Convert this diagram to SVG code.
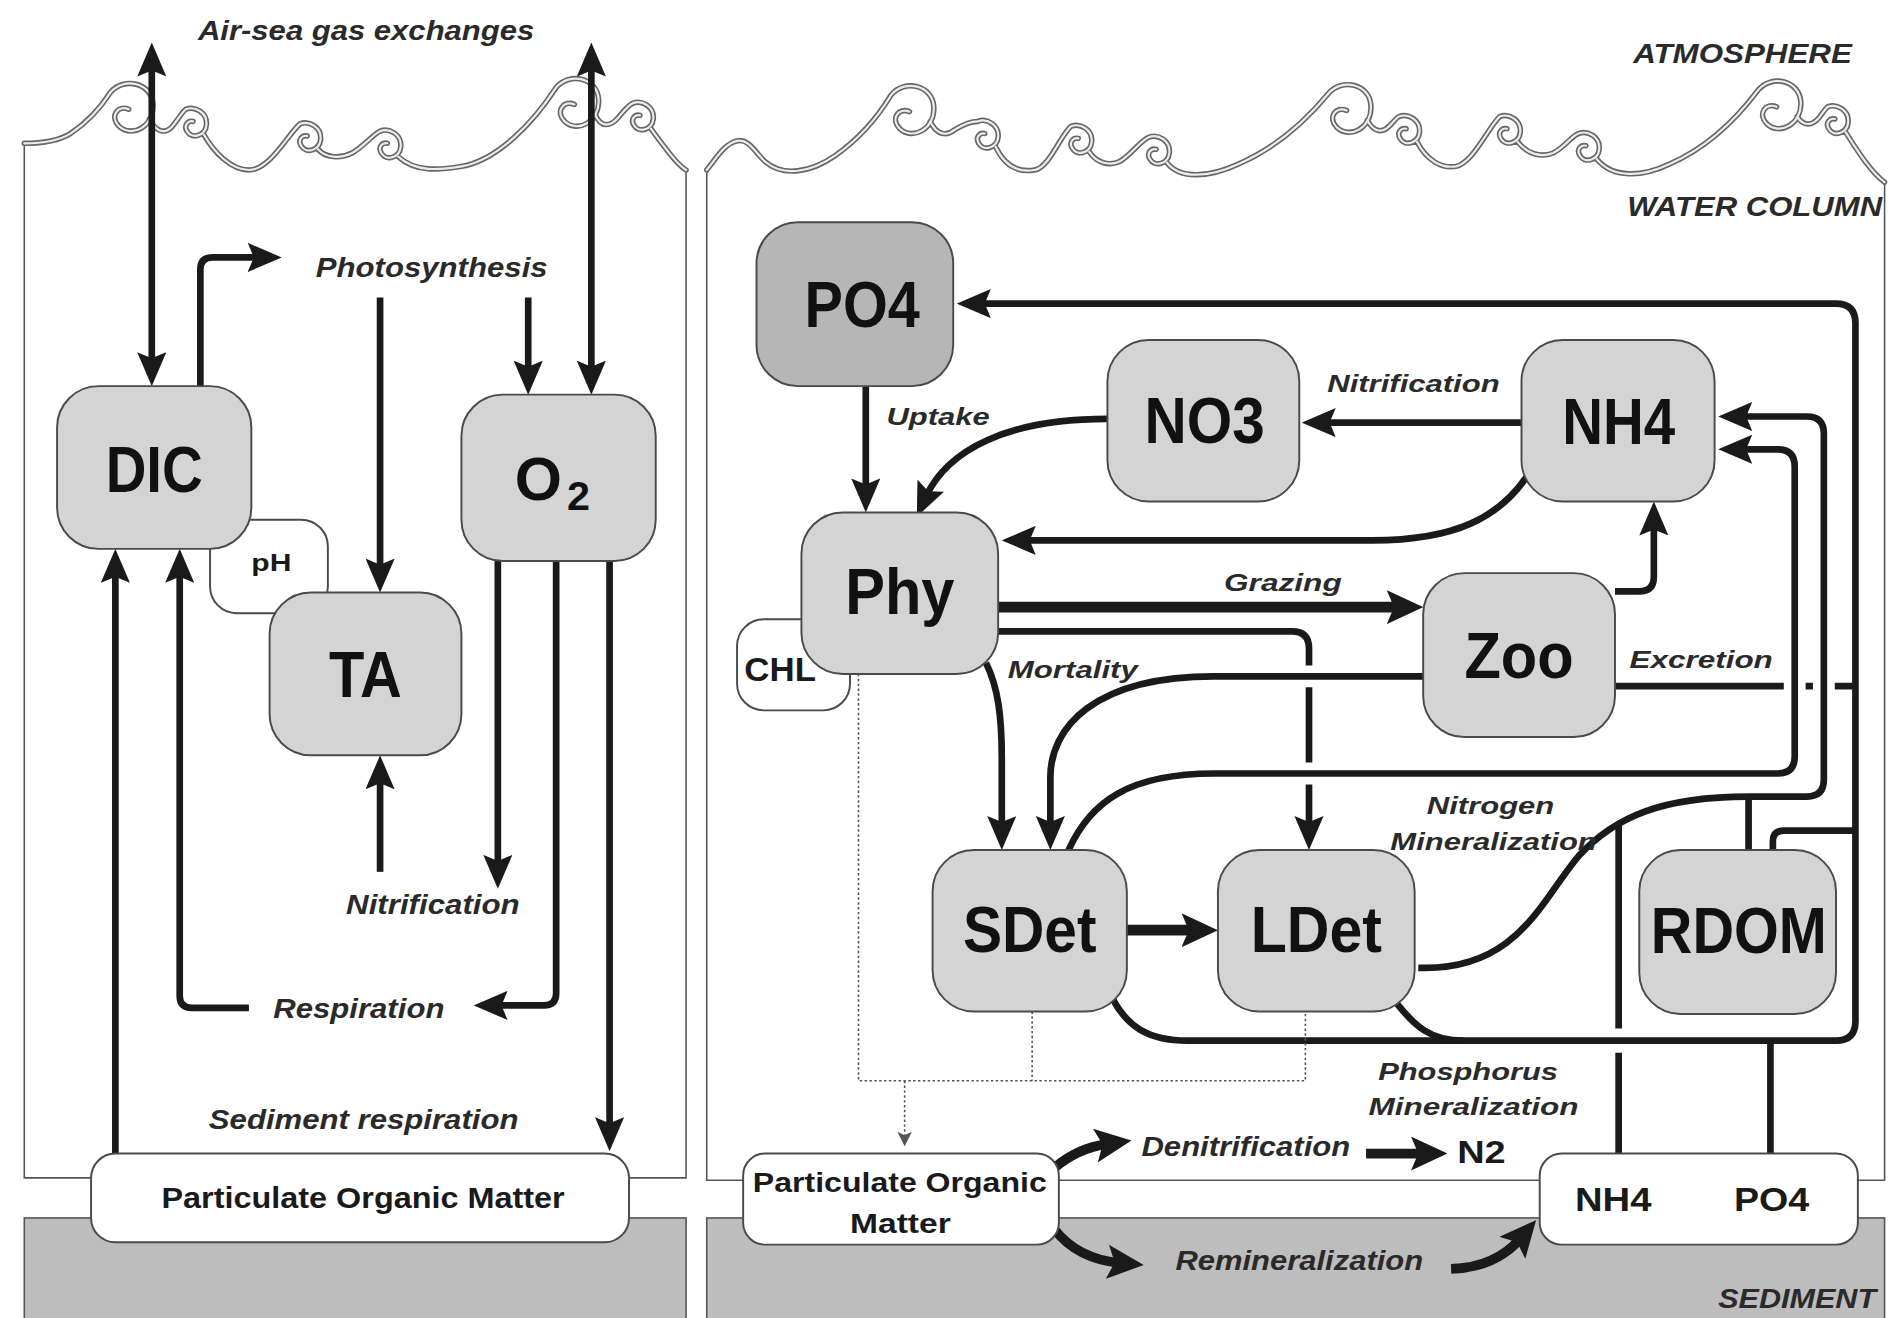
<svg xmlns="http://www.w3.org/2000/svg" width="1904" height="1318" viewBox="0 0 1904 1318">
<style>
.panel{fill:none;stroke:#555;stroke-width:1.3}
.sed{fill:#bdbdbd;stroke:#555;stroke-width:1.3}
.w1{fill:none;stroke:#666;stroke-width:4.5;stroke-linecap:round;stroke-linejoin:round}
.w2{fill:none;stroke:#ececec;stroke-width:1.8;stroke-linecap:round;stroke-linejoin:round}
.box{fill:#d4d4d4;stroke:#4a4a4a;stroke-width:1.6}
.dark{fill:#b6b6b6}
.wbox{fill:#fff;stroke:#4a4a4a;stroke-width:1.6}
.lbl{font-family:"Liberation Sans",Arial,sans-serif;font-weight:bold;font-size:54px;fill:#111;text-anchor:middle}
.it{font-family:"Liberation Sans",Arial,sans-serif;font-weight:bold;font-style:italic;font-size:22px;fill:#2a2a2a}
.sm{font-family:"Liberation Sans",Arial,sans-serif;font-weight:bold;fill:#1a1a1a}
.c{fill:none;stroke:#1a1a1a;stroke-width:5.5;stroke-linejoin:round}
.ct{fill:none;stroke:#1a1a1a;stroke-width:9;stroke-linejoin:round}
.dot{fill:none;stroke:#555;stroke-width:1.3;stroke-dasharray:2 2}
</style>
<defs>
<marker id="a" viewBox="0 0 28 24" refX="11" refY="12" markerWidth="28" markerHeight="24" markerUnits="userSpaceOnUse" orient="auto-start-reverse">
<path d="M0,0 L28,12 L0,24 L5,12 z" fill="#1a1a1a"/>
</marker>
<marker id="ab" viewBox="0 0 30 28" refX="10" refY="14" markerWidth="30" markerHeight="28" markerUnits="userSpaceOnUse" orient="auto">
<path d="M0,0 L30,14 L0,28 L6,14 z" fill="#1a1a1a"/>
</marker>
<marker id="as" viewBox="0 0 12 12" refX="4" refY="6" markerWidth="12" markerHeight="12" markerUnits="userSpaceOnUse" orient="auto">
<path d="M0,0 L12,6 L0,12 L3,6 z" fill="#555"/>
</marker>
<path id="wL" d="M20,118 C35,118 48,116 58,110 C70,102 82,90 91,76 c11,-13 34,-8 35,10 c1,18 -17,28 -28,18 c-8,-8 -1,-18 8,-14 m17,8 C129,110 137,110 142,104 C147,98 150,92 153,90 c8,-3 18,3 17,13 c-1,9 -12,12 -16,5 c-3,-5 1,-9 5,-8 m9,11 C176,125 190,140 205,140 C222,140 236,112 247,102 c8,-3 18,3 17,13 c-1,9 -12,12 -16,5 c-3,-5 1,-9 5,-8 m9,11 C268,130 280,131 290,126 C299,121 307,111 313,108 c8,-3 18,3 17,13 c-1,9 -12,12 -16,5 c-3,-5 1,-9 5,-8 m9,11 C342,142 362,140 380,137 C410,132 440,100 458,72 c11,-13 34,-8 35,10 c1,18 -17,28 -28,18 c-8,-8 -1,-18 8,-14 m17,8 C495,106 503,104 509,97 C514,91 517,87 521,85 c8,-3 18,3 17,13 c-1,9 -12,12 -16,5 c-3,-5 1,-9 5,-8 m9,11 C548,122 557,135 565,140"/>
<path id="wR" d="M582,140 C590,130 597,118 607,116 C617,114 622,126 630,133 C645,146 668,142 688,128 C705,116 722,98 734,78 c11,-13 34,-8 35,10 c1,18 -17,28 -28,18 c-8,-8 -1,-18 8,-14 m17,8 C772,112 780,112 786,107 C794,102 799,100 805,100 c8,-3 18,3 17,13 c-1,9 -12,12 -16,5 c-3,-5 1,-9 5,-8 m9,11 C828,138 840,142 852,140 C864,138 873,112 882,104 c8,-3 18,3 17,13 c-1,9 -12,12 -16,5 c-3,-5 1,-9 5,-8 m9,11 C903,134 913,137 922,133 C931,128 939,116 946,113 c8,-3 18,3 17,13 c-1,9 -12,12 -16,5 c-3,-5 1,-9 5,-8 m9,11 C972,148 996,146 1020,135 C1050,122 1075,100 1094,77 c11,-13 34,-8 35,10 c1,18 -17,28 -28,18 c-8,-8 -1,-18 8,-14 m17,8 C1132,110 1139,109 1144,104 C1148,100 1150,97 1152,96 c8,-3 18,3 17,13 c-1,9 -12,12 -16,5 c-3,-5 1,-9 5,-8 m9,11 C1175,132 1187,139 1199,137 C1213,134 1225,106 1235,96 c8,-3 18,3 17,13 c-1,9 -12,12 -16,5 c-3,-5 1,-9 5,-8 m9,11 C1258,127 1269,130 1279,126 C1289,121 1294,112 1300,110 c8,-3 18,3 17,13 c-1,9 -12,12 -16,5 c-3,-5 1,-9 5,-8 m9,11 C1328,147 1352,146 1375,135 C1405,122 1430,98 1448,74 c11,-13 34,-8 35,10 c1,18 -17,28 -28,18 c-8,-8 -1,-18 8,-14 m17,8 C1485,104 1492,104 1498,97 C1501,93 1503,90 1505,88 c8,-3 18,3 17,13 c-1,9 -12,12 -16,5 c-3,-5 1,-9 5,-8 m9,11 C1532,128 1542,143 1552,150"/>
</defs>
<rect width="1904" height="1318" fill="#fff"/>
<g transform="scale(1.21429)">
<g id="background">
<path class="panel" d="M20,118 V970 H565 V140"/>
<path class="panel" d="M582,140 V972 H1552 V150"/>
<rect class="sed" x="20" y="1003" width="545" height="95"/>
<rect class="sed" x="582" y="1003" width="970" height="95"/>
<use href="#wL" class="w1"/><use href="#wL" class="w2"/>
<use href="#wR" class="w1"/><use href="#wR" class="w2"/>
</g>
<g id="connectors">
<path class="c" d="M125,52 V301" marker-start="url(#a)" marker-end="url(#a)"/>
<path class="c" d="M487,52 V308" marker-start="url(#a)" marker-end="url(#a)"/>
<path class="c" d="M165,318 V222 Q165,212 175,212 H215" marker-end="url(#a)"/>
<path class="c" d="M313,245 V471" marker-end="url(#a)"/>
<path class="c" d="M435,245 V308" marker-end="url(#a)"/>
<path class="c" d="M313,718 V639" marker-end="url(#a)"/>
<path class="c" d="M410,462 V715" marker-end="url(#a)"/>
<path class="c" d="M458,462 V818 Q458,828 448,828 H407" marker-end="url(#a)"/>
<path class="c" d="M502,462 V931" marker-end="url(#a)"/>
<path class="c" d="M205,830 H158 Q148,830 148,820 V469" marker-end="url(#a)"/>
<path class="c" d="M95,950 V469" marker-end="url(#a)"/>
<path class="c" d="M916,822 C928,845 945,857 978,857 H1512 Q1528,857 1528,841 V266 Q1528,250 1512,250 H805" marker-end="url(#a)"/>
<path class="c" d="M1150,826 C1165,845 1178,857 1205,857"/>
<path class="c" d="M1458,857 V950"/>
<path class="c" d="M1460,700 V693 Q1460,684 1469,684 H1528"/>
<path class="c" d="M1330,565 H1469 M1487,565 H1493 M1511,565 H1528"/>
<path class="c" d="M1440,700 V656"/>
<path class="c" d="M1168,797 C1250,800 1270,740 1300,705 C1330,672 1370,656 1440,656 H1488 Q1502,656 1502,642 V357 Q1502,343 1488,343 H1432" marker-end="url(#a)"/>
<path class="c" d="M1333,950 V867 M1333,847 V680"/>
<path class="c" d="M880,700 C898,660 930,637 1000,637 H1464 Q1478,637 1478,623 V384 Q1478,370 1464,370 H1432" marker-end="url(#a)"/>
<path class="c" d="M1330,487 H1350 Q1362,487 1362,475 V430" marker-end="url(#a)"/>
<path class="c" d="M1253,348 H1089" marker-end="url(#a)"/>
<path class="c" d="M912,345 C830,345 780,370 762,410" marker-end="url(#a)"/>
<path class="c" d="M1257,393 C1235,425 1200,445 1130,445 H842" marker-end="url(#a)"/>
<path class="c" d="M713,318 V405" marker-end="url(#a)"/>
<path class="ct" d="M822,500 H1152" marker-end="url(#ab)"/>
<path class="c" d="M812,546 C822,566 825,590 825,625 V683" marker-end="url(#a)"/>
<path class="c" d="M822,520 H1064 Q1078,520 1078,534 V548 M1078,566 V628 M1078,646 V683" marker-end="url(#a)"/>
<path class="c" d="M1172,557 H1000 C900,557 865,600 865,640 V683" marker-end="url(#a)"/>
<path class="ct" d="M928,766 H983" marker-end="url(#ab)"/>
<path class="dot" d="M707,555 V890 H1075 V833 M850,833 V890"/>
<path class="dot" d="M745,890 V936" marker-end="url(#as)"/>
<path class="ct" style="stroke-width:8" d="M868,962 C882,950 898,944 912,942" marker-end="url(#ab)"/>
<path class="ct" style="stroke-width:8" d="M1125,950 H1172" marker-end="url(#ab)"/>
<path class="ct" style="stroke-width:8" d="M868,1012 C882,1030 900,1038 922,1040" marker-end="url(#ab)"/>
<path class="ct" style="stroke-width:8" d="M1195,1045 C1222,1044 1240,1034 1252,1020" marker-end="url(#ab)"/>
</g>
<g id="pH"><rect class="wbox" x="173" y="428" width="97" height="77" rx="22"/><text class="sm" x="207" y="470" font-size="20" textLength="33" lengthAdjust="spacingAndGlyphs">pH</text></g>
<g id="DIC"><rect class="box" x="47" y="318" width="160" height="134" rx="34"/><text class="lbl" x="127" y="405" textLength="80" lengthAdjust="spacingAndGlyphs">DIC</text></g>
<g id="O2"><rect class="box" x="380" y="325" width="160" height="137" rx="34"/><text class="lbl" x="424" y="412" style="text-anchor:start;font-size:50px">O</text><text class="lbl" x="467" y="420" style="text-anchor:start;font-size:34px">2</text></g>
<g id="TA"><rect class="box" x="222" y="488" width="158" height="134" rx="34"/><text class="lbl" x="301" y="574" textLength="60" lengthAdjust="spacingAndGlyphs">TA</text></g>
<g id="POM1"><rect class="wbox" x="75" y="950" width="443" height="73" rx="20"/><text class="sm" x="133" y="995" font-size="24" textLength="332" lengthAdjust="spacingAndGlyphs">Particulate Organic Matter</text></g>
<g id="PO4"><rect class="box dark" x="623" y="183" width="162" height="135" rx="34"/><text class="lbl" x="710" y="269" textLength="95" lengthAdjust="spacingAndGlyphs">PO4</text></g>
<g id="NO3"><rect class="box" x="912" y="280" width="158" height="133" rx="34"/><text class="lbl" x="992" y="365" textLength="99" lengthAdjust="spacingAndGlyphs">NO3</text></g>
<g id="NH4"><rect class="box" x="1253" y="280" width="159" height="133" rx="34"/><text class="lbl" x="1333" y="366" textLength="93" lengthAdjust="spacingAndGlyphs">NH4</text></g>
<g id="CHL"><rect class="wbox" x="607" y="510" width="93" height="75" rx="22"/><text class="sm" x="613" y="561" font-size="28" textLength="59" lengthAdjust="spacingAndGlyphs">CHL</text></g>
<g id="Phy"><rect class="box" x="660" y="422" width="162" height="133" rx="34"/><text class="lbl" x="741" y="506" textLength="90" lengthAdjust="spacingAndGlyphs">Phy</text></g>
<g id="Zoo"><rect class="box" x="1172" y="472" width="158" height="135" rx="34"/><text class="lbl" x="1251" y="558" textLength="90" lengthAdjust="spacingAndGlyphs">Zoo</text></g>
<g id="SDet"><rect class="box" x="768" y="700" width="160" height="133" rx="34"/><text class="lbl" x="848" y="784" textLength="110" lengthAdjust="spacingAndGlyphs">SDet</text></g>
<g id="LDet"><rect class="box" x="1003" y="700" width="162" height="133" rx="34"/><text class="lbl" x="1084" y="784" textLength="108" lengthAdjust="spacingAndGlyphs">LDet</text></g>
<g id="RDOM"><rect class="box" x="1350" y="700" width="162" height="135" rx="34"/><text class="lbl" x="1432" y="785" textLength="145" lengthAdjust="spacingAndGlyphs">RDOM</text></g>
<g id="POM2"><rect class="wbox" x="612" y="950" width="260" height="75" rx="18"/><text class="sm" x="620" y="982" font-size="23" textLength="242" lengthAdjust="spacingAndGlyphs">Particulate Organic</text><text class="sm" x="700" y="1015" font-size="23" textLength="83" lengthAdjust="spacingAndGlyphs">Matter</text></g>
<g id="SedBox"><rect class="wbox" x="1268" y="950" width="262" height="75" rx="18"/><text class="sm" x="1297" y="997" font-size="28" textLength="63" lengthAdjust="spacingAndGlyphs">NH4</text><text class="sm" x="1428" y="997" font-size="28" textLength="62" lengthAdjust="spacingAndGlyphs">PO4</text></g>
<g id="labels">
<text class="it" x="163" y="33" textLength="277" lengthAdjust="spacingAndGlyphs">Air-sea gas exchanges</text>
<text class="it" x="260" y="228" textLength="191" lengthAdjust="spacingAndGlyphs">Photosynthesis</text>
<text class="it" x="285" y="753" textLength="143" lengthAdjust="spacingAndGlyphs">Nitrification</text>
<text class="it" x="225" y="838" textLength="141" lengthAdjust="spacingAndGlyphs">Respiration</text>
<text class="it" x="172" y="930" textLength="255" lengthAdjust="spacingAndGlyphs">Sediment respiration</text>
<text class="it" x="1345" y="52" textLength="180" lengthAdjust="spacingAndGlyphs">ATMOSPHERE</text>
<text class="it" x="1340" y="178" textLength="210" lengthAdjust="spacingAndGlyphs">WATER COLUMN</text>
<text class="it" x="1415" y="1077" textLength="130" lengthAdjust="spacingAndGlyphs">SEDIMENT</text>
<text class="it" x="730" y="350" style="font-size:20px" textLength="85" lengthAdjust="spacingAndGlyphs">Uptake</text>
<text class="it" x="1093" y="323" style="font-size:20px" textLength="142" lengthAdjust="spacingAndGlyphs">Nitrification</text>
<text class="it" x="1008" y="487" style="font-size:20px" textLength="97" lengthAdjust="spacingAndGlyphs">Grazing</text>
<text class="it" x="830" y="558" style="font-size:20px" textLength="107" lengthAdjust="spacingAndGlyphs">Mortality</text>
<text class="it" x="1342" y="550" style="font-size:20px" textLength="118" lengthAdjust="spacingAndGlyphs">Excretion</text>
<text class="it" x="1175" y="670" style="font-size:20px" textLength="105" lengthAdjust="spacingAndGlyphs">Nitrogen</text>
<text class="it" x="1145" y="700" style="font-size:20px" textLength="170" lengthAdjust="spacingAndGlyphs">Mineralization</text>
<text class="it" x="1135" y="889" style="font-size:20px" textLength="148" lengthAdjust="spacingAndGlyphs">Phosphorus</text>
<text class="it" x="1127" y="918" style="font-size:20px" textLength="173" lengthAdjust="spacingAndGlyphs">Mineralization</text>
<text class="it" x="940" y="952" textLength="172" lengthAdjust="spacingAndGlyphs">Denitrification</text>
<text class="sm" x="1200" y="958" font-size="26" textLength="40" lengthAdjust="spacingAndGlyphs">N2</text>
<text class="it" x="968" y="1046" textLength="204" lengthAdjust="spacingAndGlyphs">Remineralization</text>
</g>
</g>
</svg>
